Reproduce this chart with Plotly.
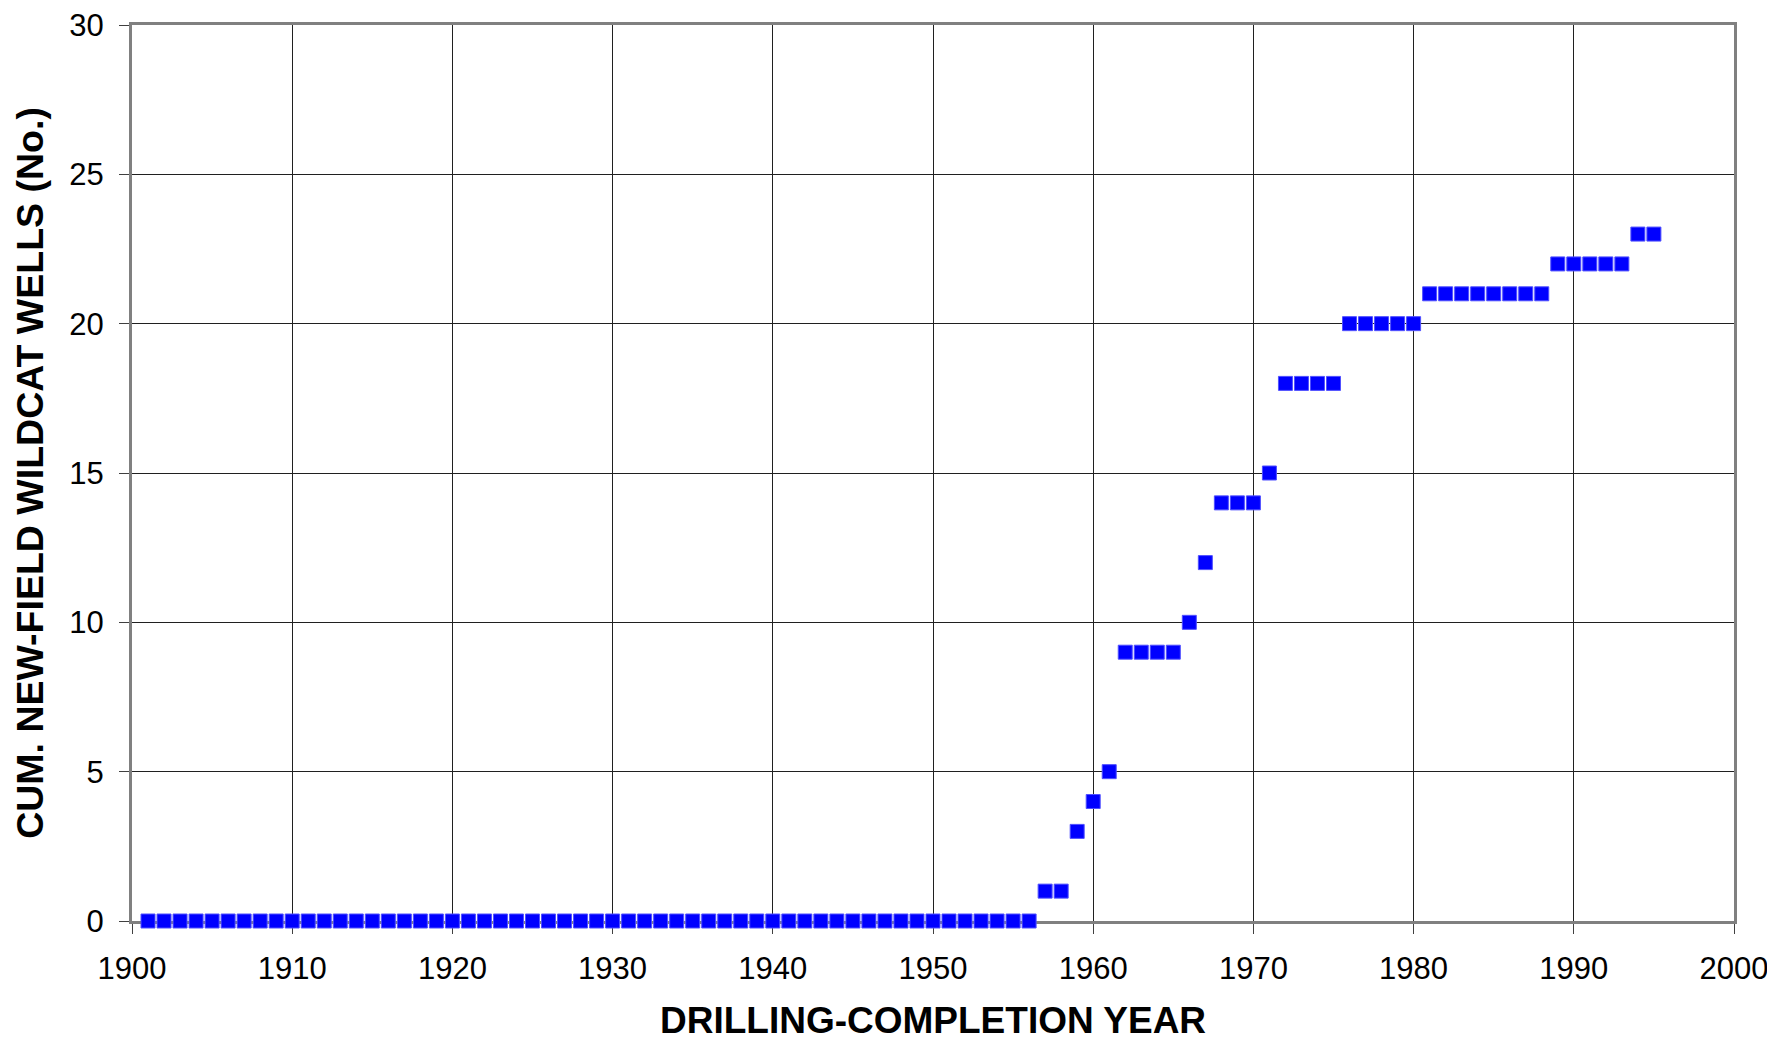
import plotly.graph_objects as go

years = list(range(1901, 1996))
# cumulative new-field wildcat wells per drilling-completion year
zero_years = list(range(1901, 1957))
cum_wells = [0] * len(zero_years) + [
    1, 1,          # 1957-1958
    3,             # 1959
    4,             # 1960
    5,             # 1961
    9, 9, 9, 9,    # 1962-1965
    10,            # 1966
    12,            # 1967
    14, 14, 14,    # 1968-1970
    15,            # 1971
    18, 18, 18, 18,  # 1972-1975
    20, 20, 20, 20, 20,  # 1976-1980
    21, 21, 21, 21, 21, 21, 21, 21,  # 1981-1988
    22, 22, 22, 22, 22,  # 1989-1993
    23, 23,        # 1994-1995
]

x_ticks = list(range(1900, 2001, 10))
y_ticks = list(range(0, 31, 5))
x_title = "DRILLING-COMPLETION YEAR"
y_title = "CUM. NEW-FIELD WILDCAT WELLS (No.)"

fig = go.Figure()
fig.add_trace(go.Scatter(
    x=years, y=cum_wells, mode="markers",
    marker=dict(symbol="square", size=14, color="#0000FF",
                line=dict(color="#5050FF", width=1)),
    cliponaxis=False, showlegend=False,
))

axis_common = dict(
    showgrid=True, gridcolor="#202020", gridwidth=1,
    showline=True, linecolor="#808080", linewidth=3, mirror=True,
    ticks="outside", ticklen=10, tickcolor="#404040", tickwidth=1,
    zeroline=False, layer="below traces", automargin=False,
    ticklabeloverflow="allow",
    tickfont=dict(family="Liberation Sans, Arial", size=31, color="black"),
)

fig.update_layout(
    width=1767, height=1036,
    margin=dict(l=124, r=41, t=17, b=123),
    paper_bgcolor="white", plot_bgcolor="white",
    xaxis=dict(range=[1900, 2000], tickvals=x_ticks, ticklabelstandoff=8,
               **axis_common),
    yaxis=dict(range=[0, 30], tickvals=y_ticks, ticklabelstandoff=9,
               title=dict(text=f"<b>{y_title}</b>", standoff=15,
                          font=dict(family="Liberation Sans, Arial", size=37.5, color="black")),
               **axis_common),
)

fig.add_annotation(
    text=f"<b>{x_title}</b>", xref="paper", yref="paper", x=0.5, y=0,
    xanchor="center", yanchor="middle", yshift=-99, showarrow=False,
    font=dict(family="Liberation Sans, Arial", size=37, color="black"),
)

fig.write_html("out.html")
